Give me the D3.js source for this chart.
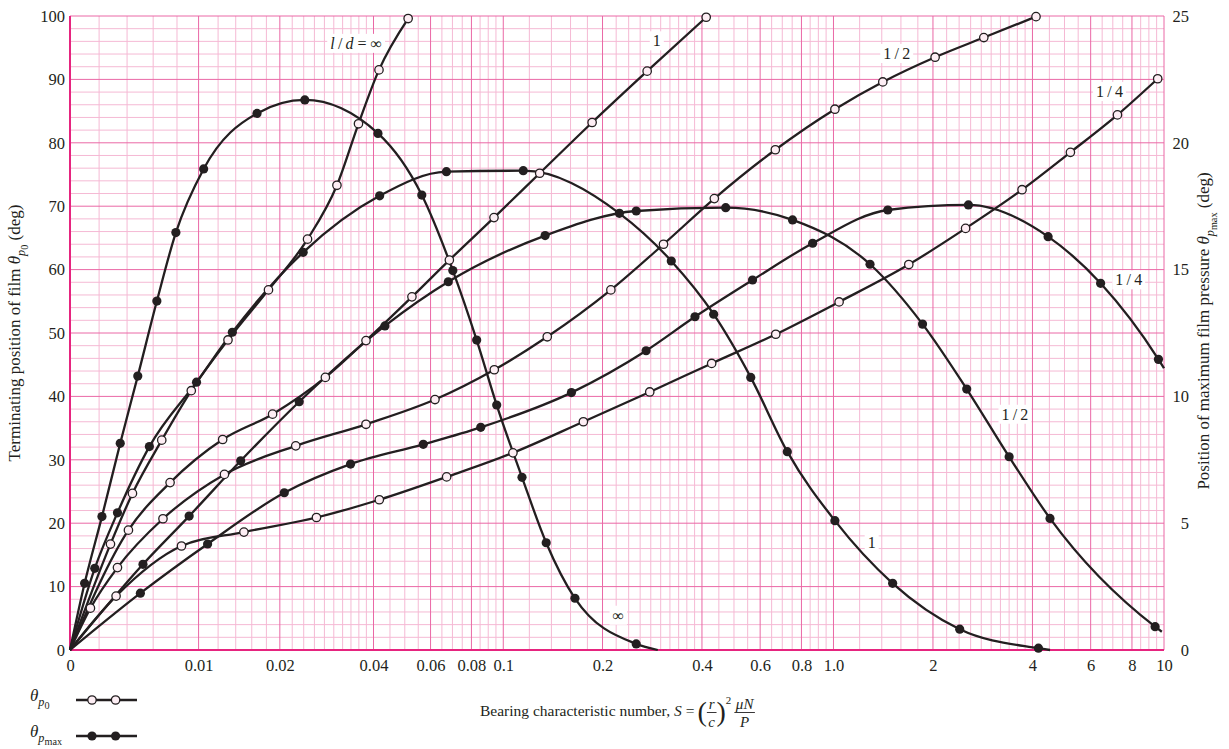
<!DOCTYPE html>
<html>
<head>
<meta charset="utf-8">
<script src="https://cdn.jsdelivr.net/npm/d3@7"></script>
<style>
  html, body { margin: 0; padding: 0; background: #fff; overflow: hidden; }
  svg { display: block; }
  svg text { font-family: 'Liberation Serif', 'Times New Roman', serif; fill: #231f20; }
</style>
</head>
<body>
<script>
const width = 1229
const height = 749
const margin = { top: 16, right: 65, bottom: 99, left: 70 }
const innerWidth = width - margin.left - margin.right
const innerHeight = height - margin.top - margin.bottom

// x axis ticks (bearing characteristic number S)
const xTicks = [0, 0.01, 0.02, 0.04, 0.06, 0.08, 0.1, 0.2, 0.4, 0.6, 0.8, 1, 2, 4, 6, 8, 10]
const xTickLabels = ['0', '0.01', '0.02', '0.04', '0.06', '0.08', '0.1', '0.2', '0.4', '0.6', '0.8', '1.0', '2', '4', '6', '8', '10']
const leftTicks = [0, 10, 20, 30, 40, 50, 60, 70, 80, 90, 100]
const rightTicks = [0, 5, 10, 15, 20, 25]

// terminating position of film, theta_p0 (deg, left axis) -- open circles
const p0Inf = [[0, 0], [0.0028, 16.7], [0.0044, 24.7], [0.0067, 33.1], [0.0093, 40.9], [0.0131, 48.9], [0.0183, 56.8], [0.0247, 64.8], [0.0307, 73.3], [0.0359, 83.0], [0.0416, 91.5], [0.0512, 99.6]]
const p0One = [[0, 0], [0.0041, 18.9], [0.0074, 26.4], [0.0125, 33.2], [0.0189, 37.2], [0.0282, 43.0], [0.0379, 48.8], [0.0526, 55.7], [0.0685, 61.5], [0.0937, 68.2], [0.129, 75.2], [0.186, 83.2], [0.273, 91.3], [0.412, 99.8]]
const p0Half = [[0, 0], [0.0014, 6.6], [0.0033, 13.0], [0.0068, 20.7], [0.0127, 27.7], [0.0226, 32.2], [0.0379, 35.6], [0.0619, 39.5], [0.0939, 44.2], [0.136, 49.4], [0.212, 56.8], [0.306, 64.0], [0.436, 71.2], [0.667, 78.9], [1.01, 85.3], [1.41, 89.6], [2.03, 93.5], [2.85, 96.6], [4.10, 99.9]]
const p0Quarter = [[0, 0], [0.0032, 8.5], [0.0084, 16.4], [0.0150, 18.6], [0.0264, 20.9], [0.0417, 23.7], [0.0672, 27.3], [0.107, 31.1], [0.175, 36.0], [0.278, 40.7], [0.428, 45.2], [0.669, 49.8], [1.04, 54.9], [1.69, 60.8], [2.51, 66.5], [3.72, 72.6], [5.21, 78.5], [7.23, 84.4], [9.57, 90.1]]

// position of maximum film pressure, theta_pmax (deg, right axis) -- filled circles
// the last point of each is where the drawn curve stops (no marker)
const pmaxInf = [[0, 0], [0.0010, 2.63], [0.0022, 5.26], [0.0035, 8.15], [0.0048, 10.8], [0.0063, 13.76], [0.0079, 16.46], [0.0105, 18.97], [0.0167, 21.16], [0.0242, 21.69], [0.0413, 20.37], [0.0564, 17.94], [0.0702, 14.96], [0.0830, 12.22], [0.0955, 9.66], [0.114, 6.81], [0.135, 4.23], [0.165, 2.04], [0.253, 0.24], [0.294, 0]]
const pmaxOne = [[0, 0], [0.0017, 3.22], [0.0033, 5.41], [0.0057, 8.02], [0.0098, 10.56], [0.0136, 12.53], [0.0239, 15.68], [0.0418, 17.91], [0.0671, 18.86], [0.115, 18.90], [0.225, 17.22], [0.323, 15.34], [0.434, 13.24], [0.562, 10.75], [0.725, 7.82], [1.01, 5.10], [1.51, 2.63], [2.41, 0.82], [4.17, 0.07], [4.52, 0]]
const pmaxHalf = [[0, 0], [0.0052, 3.38], [0.0091, 5.28], [0.0146, 7.46], [0.0232, 9.79], [0.0434, 12.78], [0.068, 14.52], [0.134, 16.34], [0.253, 17.31], [0.472, 17.44], [0.752, 16.96], [1.29, 15.21], [1.86, 12.85], [2.53, 10.29], [3.40, 7.62], [4.52, 5.19], [9.40, 0.92], [9.85, 0.72]]
const pmaxQuarter = [[0, 0], [0.0050, 2.24], [0.0109, 4.18], [0.0207, 6.20], [0.0339, 7.33], [0.0570, 8.11], [0.0854, 8.78], [0.161, 10.15], [0.271, 11.80], [0.381, 13.14], [0.569, 14.59], [0.865, 16.04], [1.46, 17.35], [2.56, 17.55], [4.46, 16.30], [6.43, 14.46], [9.62, 11.46], [10, 11.11]]

// curve labels: [text, S, deg on left axis]
const curveLabels = [
	['l/d = ∞', 0.0353, 95.7],
	['1', 0.292, 96.1],
	['1/2', 1.554, 94.1],
	['1/4', 6.84, 88.1],
	['1/4', 7.82, 58.4],
	['1/2', 3.54, 37.2],
	['1', 1.305, 17.0],
	['∞', 0.2232, 5.5]
]

const ink = '#231f20'
const gridMinor = '#f5b9d4'
const gridMajor = '#ea68a6'
const axisPink = '#e6247f'
const openFill = '#fdeef4'
const thin = '\u2009'

const svg = d3.select('body')
	.append('svg')
	.attr('width', width)
	.attr('height', height)

const g = svg.append('g')
	.attr('transform', `translate(${margin.left},${margin.top})`)

// S axis: linear close to zero, logarithmic further out
const s0 = 0.0098
const xt = d3.scaleLinear()
	.domain([0, Math.asinh(10 / s0)])
	.range([0, innerWidth])

const makeX = () => {
	const f = s => xt(Math.asinh(s / s0))
	f.domain = () => [0, 10]
	f.range = () => xt.range()
	f.copy = makeX
	return f
}
const xScale = makeX()

const yLeft = d3.scaleLinear().domain([0, 100]).range([innerHeight, 0])
const yRight = d3.scaleLinear().domain([0, 25]).range([innerHeight, 0])

// grid
const decadeMinor = [1.2, 1.4, 1.6, 1.8, 2.2, 2.4, 2.6, 2.8, 3, 3.2, 3.4, 3.6, 3.8, 4.5, 5, 5.5, 6.5, 7, 7.5, 8.5, 9, 9.5]
const xMinor = [0.002, 0.004, 0.006, 0.008]
;[0.01, 0.1, 1].forEach(b => decadeMinor.forEach(m => xMinor.push(+(m * b).toPrecision(4))))
const yMinor = d3.range(2, 100, 2).filter(v => v % 10 !== 0)

const grid = g.append('g')

grid.selectAll('.vminor')
	.data(xMinor)
	.join('line')
	.attr('x1', d => xScale(d))
	.attr('x2', d => xScale(d))
	.attr('y1', 0)
	.attr('y2', innerHeight)
	.attr('stroke', gridMinor)

grid.selectAll('.hminor')
	.data(yMinor)
	.join('line')
	.attr('x1', 0)
	.attr('x2', innerWidth)
	.attr('y1', d => yLeft(d))
	.attr('y2', d => yLeft(d))
	.attr('stroke', gridMinor)

grid.selectAll('.vmajor')
	.data(xTicks.slice(1))
	.join('line')
	.attr('x1', d => xScale(d))
	.attr('x2', d => xScale(d))
	.attr('y1', 0)
	.attr('y2', innerHeight)
	.attr('stroke', gridMajor)

grid.selectAll('.hmajor')
	.data(leftTicks.slice(1))
	.join('line')
	.attr('x1', 0)
	.attr('x2', innerWidth)
	.attr('y1', d => yLeft(d))
	.attr('y2', d => yLeft(d))
	.attr('stroke', gridMajor)

// left & bottom axis lines
g.append('line')
	.attr('x1', 0).attr('x2', 0).attr('y1', 0).attr('y2', innerHeight)
	.attr('stroke', axisPink).attr('stroke-width', 2)
g.append('line')
	.attr('x1', 0).attr('x2', innerWidth).attr('y1', innerHeight).attr('y2', innerHeight)
	.attr('stroke', axisPink).attr('stroke-width', 2)

// axes
const styleAxis = a => {
	a.select('.domain').remove()
	a.attr('font-family', null).attr('font-size', null)
	a.selectAll('text').attr('font-size', 16.5)
}

g.append('g')
	.attr('transform', `translate(0,${innerHeight})`)
	.call(d3.axisBottom(xScale)
		.tickValues(xTicks)
		.tickFormat((d, i) => xTickLabels[i])
		.tickSize(0)
		.tickPadding(9))
	.call(styleAxis)

g.append('g')
	.call(d3.axisLeft(yLeft).tickValues(leftTicks).tickSize(0).tickPadding(5))
	.call(styleAxis)

g.append('g')
	.attr('transform', `translate(${innerWidth},0)`)
	.call(d3.axisRight(yRight).tickValues(rightTicks).tickSize(0))
	.call(styleAxis)
	.selectAll('text')
	.attr('text-anchor', 'end')
	.attr('x', 25)

// curves
const series = [
	{ values: p0Inf, y: yLeft, open: true, tail: false },
	{ values: p0One, y: yLeft, open: true, tail: false },
	{ values: p0Half, y: yLeft, open: true, tail: false },
	{ values: p0Quarter, y: yLeft, open: true, tail: false },
	{ values: pmaxInf, y: yRight, open: false, tail: true },
	{ values: pmaxOne, y: yRight, open: false, tail: true },
	{ values: pmaxHalf, y: yRight, open: false, tail: true },
	{ values: pmaxQuarter, y: yRight, open: false, tail: true }
]

const curves = g.append('g')

series.forEach(sr => {
	const lineMaker = d3.line()
		.x(d => xScale(d[0]))
		.y(d => sr.y(d[1]))
		.curve(d3.curveMonotoneX)

	curves.append('path')
		.attr('d', lineMaker(sr.values))
		.attr('fill', 'none')
		.attr('stroke', ink)
		.attr('stroke-width', 2.3)
})

// curve labels (white boxes behind)
curveLabels.forEach(([txt, s, deg]) => {
	const lg = g.append('g')
		.attr('transform', `translate(${xScale(s)},${yLeft(deg)})`)
	const t = lg.append('text')
		.attr('text-anchor', 'middle')
		.attr('dy', '0.35em')
		.attr('font-size', 16)
	if (txt.startsWith('l/d')) {
		t.append('tspan').style('font-style', 'italic').text('l')
		t.append('tspan').text(thin + '/' + thin)
		t.append('tspan').style('font-style', 'italic').text('d')
		t.append('tspan').text(' = ∞')
	} else {
		t.text(txt.replace('/', thin + '/' + thin))
	}
	const bb = t.node().getBBox()
	lg.insert('rect', 'text')
		.attr('x', bb.x - 3)
		.attr('y', bb.y - 1)
		.attr('width', bb.width + 6)
		.attr('height', bb.height + 2)
		.attr('fill', '#fff')
})

// markers
series.forEach(sr => {
	const pts = sr.values.slice(1, sr.tail ? -1 : sr.values.length)
	curves.append('g')
		.selectAll('circle')
		.data(pts)
		.join('circle')
		.attr('cx', d => xScale(d[0]))
		.attr('cy', d => sr.y(d[1]))
		.attr('r', sr.open ? 4.2 : 4.6)
		.attr('fill', sr.open ? openFill : ink)
		.attr('stroke', ink)
		.attr('stroke-width', sr.open ? 1.3 : 0)
})

// theta with subscripts
const theta = (t, sub, size) => {
	t.append('tspan').style('font-style', 'italic').text('θ')
	t.append('tspan').style('font-style', 'italic').attr('font-size', size * 0.72).attr('dy', size * 0.28).text('p')
	t.append('tspan').attr('font-size', size * 0.6).attr('dy', size * 0.2).text(sub)
	return t
}

// axis titles
const leftTitle = svg.append('text')
	.attr('transform', `translate(20,${margin.top + innerHeight / 2}) rotate(-90)`)
	.attr('text-anchor', 'middle')
	.attr('font-size', 17)
leftTitle.append('tspan').text('Terminating position of film ')
theta(leftTitle, '0', 17)
leftTitle.append('tspan').attr('dy', -17 * 0.48).text('  (deg)')

const rightTitle = svg.append('text')
	.attr('transform', `translate(1209,${margin.top + innerHeight / 2 - 2}) rotate(-90)`)
	.attr('text-anchor', 'middle')
	.attr('font-size', 17)
rightTitle.append('tspan').text('Position of maximum film pressure ')
theta(rightTitle, 'max', 17)
rightTitle.append('tspan').attr('dy', -17 * 0.48).text('   (deg)')

// x title with stacked fractions
const xTitle = svg.append('g').attr('transform', 'translate(480,716)')
let cur = 0
const put = (str, opt = {}) => {
	const t = xTitle.append('text')
		.attr('x', cur)
		.attr('y', opt.y || 0)
		.attr('font-size', opt.size || 15.5)
		.text(str)
	if (opt.italic) t.style('font-style', 'italic')
	cur += t.node().getComputedTextLength() + (opt.gap || 0)
}
const frac = (num, den) => {
	const a = xTitle.append('text').attr('font-size', 15).attr('text-anchor', 'middle').attr('y', -7).style('font-style', 'italic').text(num)
	const b = xTitle.append('text').attr('font-size', 15).attr('text-anchor', 'middle').attr('y', 11).style('font-style', 'italic').text(den)
	const w = Math.max(a.node().getComputedTextLength(), b.node().getComputedTextLength()) + 3
	a.attr('x', cur + w / 2)
	b.attr('x', cur + w / 2)
	xTitle.append('line')
		.attr('x1', cur).attr('x2', cur + w)
		.attr('y1', -3.5).attr('y2', -3.5)
		.attr('stroke', ink).attr('stroke-width', 0.9)
	cur += w
}
put('Bearing characteristic number,', { gap: 4 })
put('S', { italic: true, gap: 4 })
put('=', { gap: 3 })
put('(', { size: 28, y: 5 })
frac('r', 'c')
put(')', { size: 28, y: 5 })
put('2', { size: 11, y: -12, gap: 3 })
frac('μN', 'P')

// legend
const legendRows = [
	{ sub: '0', open: true, y: 700 },
	{ sub: 'max', open: false, y: 736 }
]
legendRows.forEach(row => {
	const t = svg.append('text')
		.attr('x', 30)
		.attr('y', row.y + 1)
		.attr('font-size', 17)
	theta(t, row.sub, 17)
	svg.append('line')
		.attr('x1', 76).attr('x2', 137)
		.attr('y1', row.y).attr('y2', row.y)
		.attr('stroke', ink).attr('stroke-width', 2.3)
	svg.selectAll(null)
		.data([92, 115.6])
		.join('circle')
		.attr('cx', d => d)
		.attr('cy', row.y)
		.attr('r', row.open ? 4.2 : 4.6)
		.attr('fill', row.open ? openFill : ink)
		.attr('stroke', ink)
		.attr('stroke-width', row.open ? 1.3 : 0)
})
</script>
</body>
</html>
